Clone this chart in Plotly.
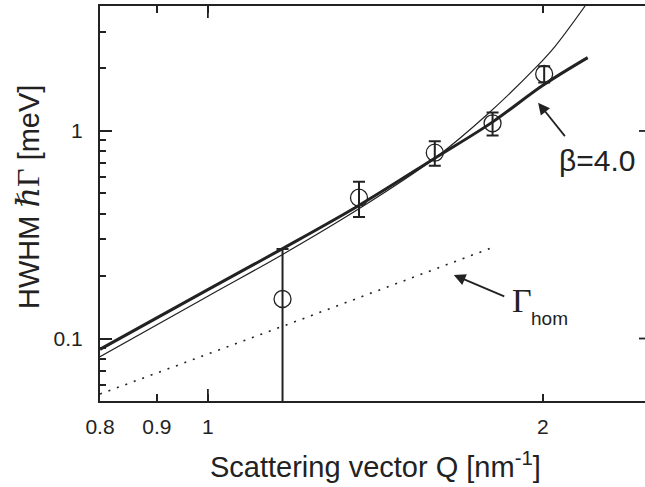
import math
import plotly.graph_objects as go

# ---- data ----
Q_data = [1.167, 1.367, 1.599, 1.802, 2.005]
G_data = [0.155, 0.477, 0.786, 1.089, 1.882]
G_err = [0.115, 0.092, 0.107, 0.139, 0.170]

Q_beta = [0.80, 1.00, 1.164, 1.369, 1.599, 1.80, 2.00, 2.194]
G_beta = [0.0887, 0.172, 0.269, 0.440, 0.739, 1.10, 1.66, 2.256]

Q_thin = [0.80, 1.00, 1.164, 1.369, 1.599, 1.78, 1.974, 2.05, 2.182]
G_thin = [0.0817, 0.160, 0.252, 0.424, 0.739, 1.194, 2.04, 2.55, 4.0]

Q_hom = [0.80, 1.19, 1.80]
G_hom = [0.054, 0.119, 0.274]

x_tickvals = [0.8, 0.9, 1, 2]
x_ticktext = ["0.8", "0.9", "1", "2"]
y_tickvals = [0.1, 1]
y_ticktext = ["0.1", "1"]
y_minor = [0.06, 0.07, 0.08, 0.09, 0.2, 0.3, 0.4, 0.5, 0.6, 0.7, 0.8, 0.9, 2, 3]

INK = "#222222"
SANS = "Liberation Sans, Arial, sans-serif"
SERIF = "Liberation Serif, Times New Roman, serif"

W, H = 645, 487
ML, MR, MT, MB = 100, 0, 6, 86
PW, PH = W - ML - MR, H - MT - MB


def px(xp):
    return (xp - ML) / PW


def py(yp):
    return (H - MB - yp) / PH


fig = go.Figure()

fig.add_trace(go.Scatter(x=Q_hom, y=G_hom, mode="lines",
                         line=dict(color=INK, width=1.6, dash="2px,7px"),
                         showlegend=False, hoverinfo="skip"))
fig.add_trace(go.Scatter(x=Q_thin, y=G_thin, mode="lines",
                         line=dict(color=INK, width=1.2, shape="spline"),
                         showlegend=False, hoverinfo="skip"))
fig.add_trace(go.Scatter(x=Q_beta, y=G_beta, mode="lines",
                         line=dict(color=INK, width=3, shape="spline"),
                         showlegend=False, hoverinfo="skip"))
fig.add_trace(go.Scatter(x=Q_data, y=G_data, mode="markers",
                         marker=dict(symbol="circle-open", size=17, color=INK,
                                     line=dict(color=INK, width=1.3)),
                         error_y=dict(type="data", array=G_err, visible=True,
                                      thickness=2, width=6, color=INK),
                         showlegend=False, hoverinfo="skip"))

shapes = []
# long major tick at Q=1 (bottom and top)
shapes.append(dict(type="line", xref="x", x0=1, x1=1, yref="paper",
                   ysizemode="pixel", yanchor=0, y0=0, y1=12,
                   line=dict(color=INK, width=1.8)))
shapes.append(dict(type="line", xref="x", x0=1, x1=1, yref="paper",
                   ysizemode="pixel", yanchor=1, y0=0, y1=-12,
                   line=dict(color=INK, width=1.8)))
# right-side ticks
for yv in y_tickvals:
    shapes.append(dict(type="line", yref="y", y0=yv, y1=yv, xref="paper",
                       xsizemode="pixel", xanchor=1, x0=0, x1=-6,
                       line=dict(color=INK, width=1.8)))

annotations = []
# beta arrow
annotations.append(dict(x=math.log10(1.980), y=math.log10(1.369), xref="x", yref="y",
                        text="", showarrow=True, arrowhead=2, arrowsize=1.3,
                        arrowwidth=1.8, arrowcolor=INK, ax=28, ay=35))
annotations.append(dict(x=px(597), y=py(160), xref="paper", yref="paper",
                        text="β=4.0", showarrow=False,
                        font=dict(family=SANS, size=30, color=INK),
                        xanchor="center", yanchor="middle"))
# Gamma_hom arrow
annotations.append(dict(x=math.log10(1.663), y=math.log10(0.2023), xref="x", yref="y",
                        text="", showarrow=True, arrowhead=2, arrowsize=1.3,
                        arrowwidth=1.8, arrowcolor=INK, ax=52, ay=22))
annotations.append(dict(x=px(522), y=py(300), xref="paper", yref="paper",
                        text="Γ", showarrow=False,
                        font=dict(family=SERIF, size=34, color=INK),
                        xanchor="center", yanchor="middle"))
annotations.append(dict(x=px(549), y=py(318), xref="paper", yref="paper",
                        text="hom", showarrow=False,
                        font=dict(family=SANS, size=19, color=INK),
                        xanchor="center", yanchor="middle"))
# axis titles
annotations.append(dict(x=px(375.5), y=py(465), xref="paper", yref="paper",
                        text="Scattering vector Q [nm<sup>-1</sup>]", showarrow=False,
                        font=dict(family=SANS, size=29, color=INK),
                        xanchor="center", yanchor="middle"))
annotations.append(dict(x=px(28), y=py(197), xref="paper", yref="paper",
                        text=('HWHM <span style="font-family:Liberation Serif, DejaVu Serif, serif; font-size:32px">'
                              '<i>ℏ</i>Γ</span> [meV]'),
                        showarrow=False, textangle=-90,
                        font=dict(family=SANS, size=29, color=INK),
                        xanchor="center", yanchor="middle"))

fig.update_layout(
    width=W, height=H,
    margin=dict(l=ML, r=MR, t=MT, b=MB),
    paper_bgcolor="white", plot_bgcolor="white",
    shapes=shapes, annotations=annotations,
    xaxis=dict(type="log", range=[math.log10(0.8), math.log10(2.47)],
               tickmode="array", tickvals=x_tickvals, ticktext=x_ticktext,
               ticks="inside", ticklen=7, tickwidth=1.8, tickcolor=INK,
               ticklabelstandoff=6,
               showline=True, linewidth=2, linecolor=INK, mirror="ticks",
               showgrid=False, zeroline=False,
               tickfont=dict(family=SANS, size=21, color=INK)),
    yaxis=dict(type="log", range=[math.log10(0.05), math.log10(4.0)],
               tickmode="array", tickvals=y_tickvals, ticktext=y_ticktext,
               ticks="inside", ticklen=12, tickwidth=1.8, tickcolor=INK,
               ticklabelstandoff=11,
               minor=dict(tickmode="array", tickvals=y_minor, ticks="inside",
                          ticklen=6, tickwidth=1.8, tickcolor=INK, showgrid=False),
               showline=True, linewidth=2, linecolor=INK, mirror=False,
               showgrid=False, zeroline=False,
               tickfont=dict(family=SANS, size=21, color=INK)),
)

fig.write_html("out.html", config={"displayModeBar": False},
               post_script="document.body.style.margin='0';")
